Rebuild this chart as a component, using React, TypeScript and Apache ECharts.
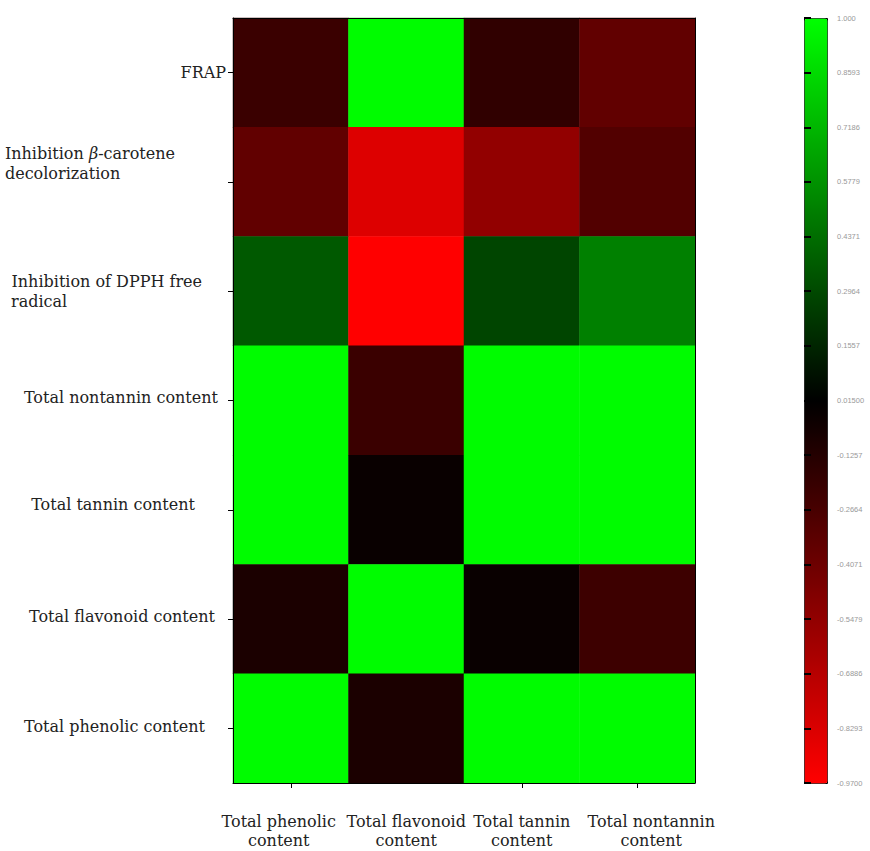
import React, { useEffect, useRef } from "react";
import * as echarts from "echarts";

// Columns (x) and rows (y, top to bottom)
const xCategories = [
  "Total phenolic\ncontent",
  "Total flavonoid\ncontent",
  "Total tannin\ncontent",
  "Total nontannin\ncontent",
];
const yCategories = [
  "FRAP",
  "Inhibition β-carotene decolorization",
  "Inhibition of DPPH free radical",
  "Total nontannin content",
  "Total tannin content",
  "Total flavonoid content",
  "Total phenolic content",
];

// Cell values, one array per row (columns in xCategories order)
const frap = [-0.21, 0.99, -0.17, -0.36];
const betaCarotene = [-0.36, -0.84, -0.55, -0.3];
const dpph = [0.36, -0.97, 0.28, 0.51];
const nontannin = [0.99, -0.21, 0.99, 0.99];
const tannin = [0.99, -0.02, 0.99, 0.99];
const flavonoid = [-0.09, 0.99, -0.02, -0.22];
const phenolic = [0.99, -0.09, 0.99, 0.99];
const rows = [frap, betaCarotene, dpph, nontannin, tannin, flavonoid, phenolic];

// Colour bar
const scaleMin = -0.97;
const scaleMax = 1.0;
const colorbarTicks = [
  "-0.9700",
  "-0.8293",
  "-0.6886",
  "-0.5479",
  "-0.4071",
  "-0.2664",
  "-0.1257",
  "0.01500",
  "0.1557",
  "0.2964",
  "0.4371",
  "0.5779",
  "0.7186",
  "0.8593",
  "1.000",
];

export default function App() {
  const ref = useRef<HTMLDivElement>(null);

  useEffect(() => {
    if (!ref.current) return;
    const chart = echarts.init(ref.current, undefined, { renderer: "svg" });

    const data: [number, number, number][] = [];
    rows.forEach((row, yi) => row.forEach((v, xi) => data.push([xi, yi, v])));

    const serif = "DejaVu Serif";
    const fs = 16;
    // label nudges (layout only)
    const nudge: Record<string, { pr: number; pb: number }> = {
      FRAP: { pr: 0, pb: 0 },
      "Inhibition β-carotene decolorization": { pr: 51, pb: 36 },
      "Inhibition of DPPH free radical": { pr: 24, pb: 0 },
      "Total nontannin content": { pr: 8, pb: 6 },
      "Total tannin content": { pr: 31, pb: 10 },
      "Total flavonoid content": { pr: 11, pb: 6 },
      "Total phenolic content": { pr: 21, pb: 4 },
    };
    const yData = yCategories.map((c) => ({
      value: c,
      textStyle: { padding: [0, nudge[c].pr, nudge[c].pb, 0] },
    }));
    const xNudge = [
      [0, 24, 0, 0],
      [0, 0, 0, 0],
      [0, 0, 0, 0],
      [0, 0, 0, 28],
    ];
    const xData = xCategories.map((c, i) => ({
      value: c,
      textStyle: { padding: xNudge[i] },
    }));
    const yFormatter = (v: string) => {
      if (v.startsWith("Inhibition β"))
        return "{n|Inhibition }{i|β}{n|-carotene}\n{b2|decolorization}";
      if (v.startsWith("Inhibition of DPPH"))
        return "{n|Inhibition of DPPH free}\n{d2|radical}";
      return "{n|" + v + "}";
    };
    const base = { fontFamily: serif, fontSize: fs, color: "#222", lineHeight: 20 };

    const axisLine = { show: true, lineStyle: { color: "#000", width: 1 } };

    chart.setOption({
      animation: false,
      backgroundColor: "#fff",
      grid: [
        { left: 233, top: 18, width: 462, height: 765 },
        { left: 804, top: 18, width: 23, height: 765 },
      ],
      xAxis: [
        {
          type: "category",
          gridIndex: 0,
          data: xData,
          position: "bottom",
          z: 10,
          axisLine,
          axisTick: {
            show: true,
            alignWithLabel: true,
            length: 5,
            lineStyle: { color: "#000" },
            interval: (i: number) => i !== 1,
          },
          axisLabel: {
            interval: 0,
            margin: 29,
            fontFamily: serif,
            fontSize: fs,
            lineHeight: 19,
            color: "#222",
          },
        },
        {
          type: "category",
          gridIndex: 0,
          data: xCategories,
          position: "top",
          z: 10,
          axisLine,
          axisTick: { show: false },
          axisLabel: { show: false },
        },
        { type: "value", gridIndex: 1, show: false },
      ],
      yAxis: [
        {
          type: "category",
          gridIndex: 0,
          data: yData,
          inverse: true,
          position: "left",
          z: 10,
          axisLine,
          axisTick: {
            show: true,
            alignWithLabel: true,
            length: 5,
            lineStyle: { color: "#000" },
          },
          axisLabel: {
            interval: 0,
            margin: 7,
            formatter: yFormatter,
            lineHeight: 20,
            rich: {
              n: base,
              i: { ...base, fontStyle: "italic" },
              b2: { ...base, width: 169, align: "left" },
              d2: { ...base, width: 191, align: "left" },
            },
          },
        },
        {
          type: "category",
          gridIndex: 0,
          data: yCategories,
          inverse: true,
          position: "right",
          z: 10,
          axisLine,
          axisTick: { show: false },
          axisLabel: { show: false },
        },
        {
          type: "category",
          gridIndex: 1,
          data: colorbarTicks,
          boundaryGap: false,
          position: "right",
          z: 10,
          axisLine: { show: false },
          axisTick: {
            show: true,
            length: 7,
            lineStyle: { color: "#000", width: 2 },
          },
          axisLabel: {
            interval: 0,
            margin: 10,
            fontFamily: "Liberation Sans",
            fontSize: 7.5,
            color: "#999",
          },
        },
      ],
      visualMap: {
        type: "continuous",
        seriesIndex: 0,
        min: scaleMin,
        max: scaleMax,
        calculable: false,
        hoverLink: false,
        left: 804,
        top: 18,
        itemWidth: 23,
        itemHeight: 765,
        padding: 0,
        borderColor: "#000",
        borderWidth: 1,
        inRange: { color: ["#ff0000", "#000000", "#00ff00"] },
      },
      series: [
        {
          type: "heatmap",
          xAxisIndex: 0,
          yAxisIndex: 0,
          data,
          emphasis: { disabled: true },
          itemStyle: { borderWidth: 0 },
        },
      ],
    });

    return () => chart.dispose();
  }, []);

  return (
    <div
      ref={ref}
      style={{ position: "fixed", left: 0, top: 0, width: 870, height: 851 }}
    />
  );
}
